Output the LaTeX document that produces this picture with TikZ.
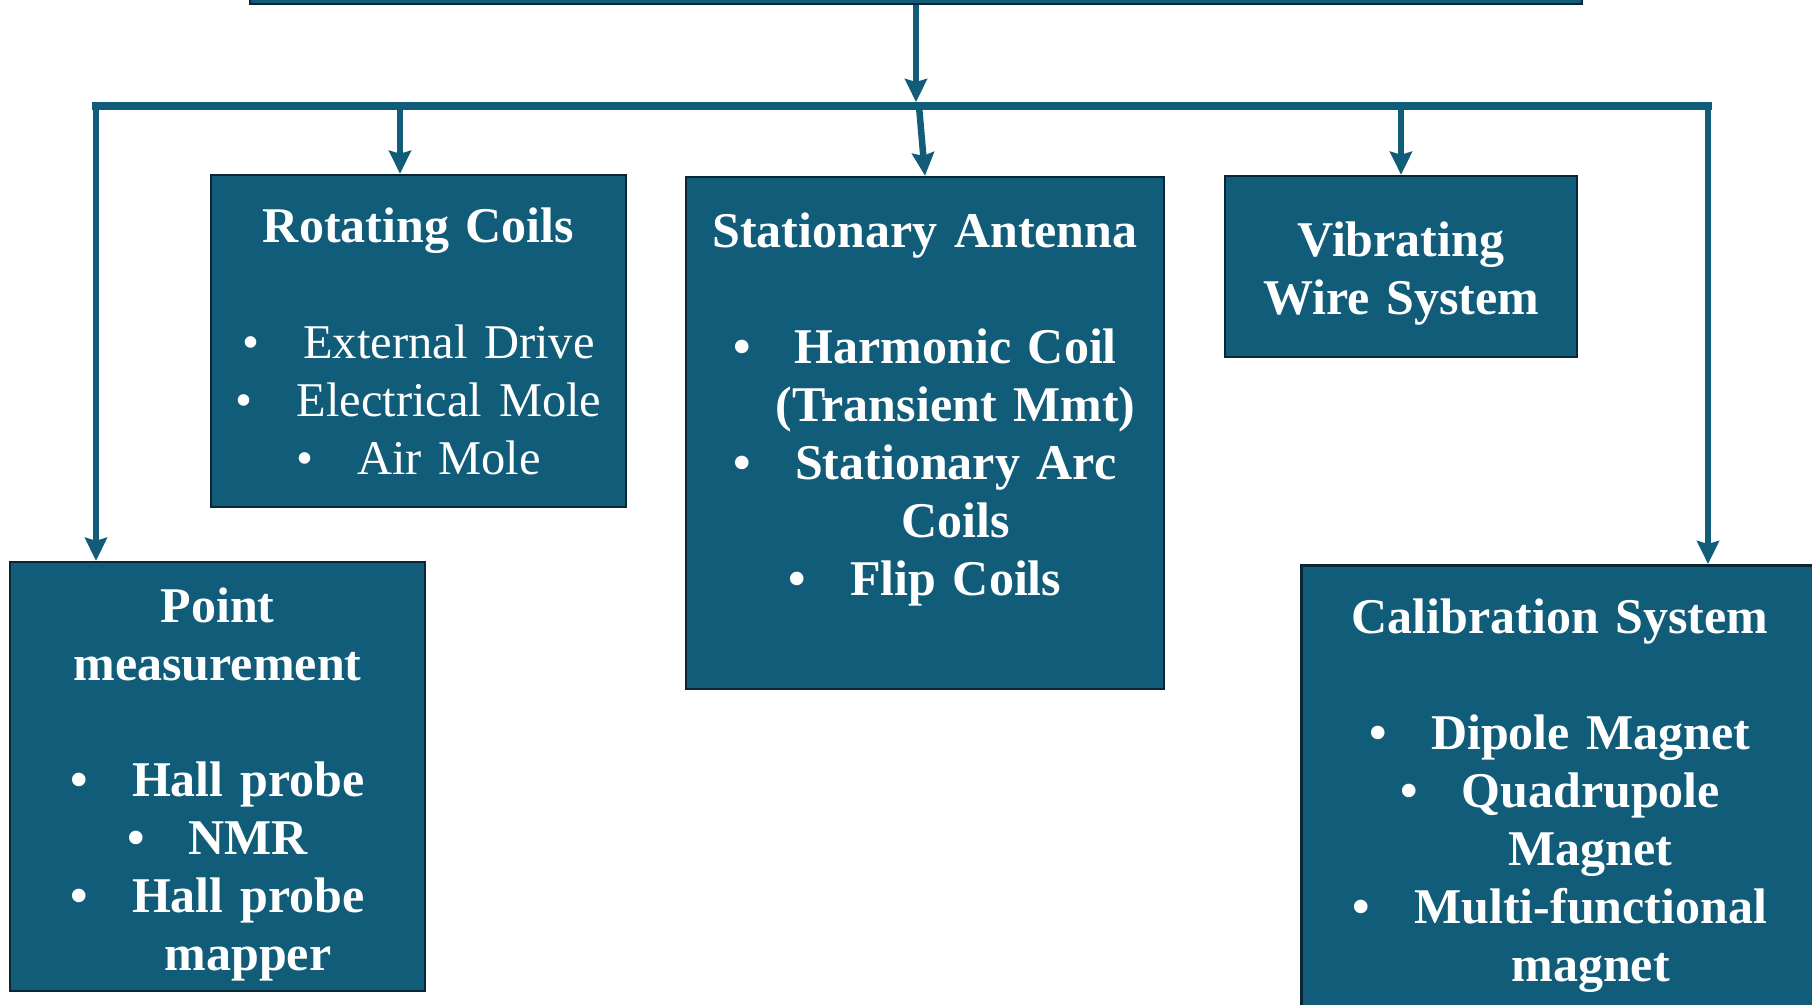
\documentclass[tikz,border=0pt]{standalone}
\usepackage{fontspec}
\setmainfont{Liberation Serif}
\usetikzlibrary{arrows.meta,calc,positioning}
\definecolor{boxteal}{RGB}{17,92,120}
\definecolor{boxedge}{RGB}{9,38,52}
\newcommand{\itm}{\textbullet\hspace{44pt}}
\newcommand{\cont}{\hspace*{61pt}}

\begin{document}
\begin{tikzpicture}[x=1pt,y=-1pt,>={Stealth[length=23pt,width=22pt,inset=3pt]},
  catbox/.style={draw=boxedge,fill=boxteal,line width=2.5pt,inner sep=0pt,text=white,
    align=center,font=\fontsize{50}{58}\selectfont\bfseries},
  feed/.style={->,boxteal,line width=6.5pt},
  busline/.style={boxteal,line width=8pt}]
  \useasboundingbox (0,0) rectangle (1812,1004);
  \node[catbox,minimum width=1332pt,minimum height=100pt] (top) at (916,-46) {};
  \node[catbox,minimum width=415pt,minimum height=332pt,text width=415pt] (rc) at (418.5,341)
    {Rotating Coils\\[58pt]\mdseries\fontsize{48.5}{58}\selectfont\itm External Drive\\ \itm Electrical Mole\\ \itm Air Mole};
  \node[catbox,minimum width=478pt,minimum height=512pt,text width=478pt] (sa) at (925,433)
    {Stationary Antenna\\[58pt]\itm Harmonic Coil\\ \cont(Transient Mmt)\\ \itm Stationary Arc\\ \cont Coils\\ \itm Flip Coils\\ \mbox{}};
  \node[catbox,minimum width=352pt,minimum height=181pt,text width=352pt] (vw) at (1401,266.5)
    {\rule{0pt}{48pt}Vibrating\\Wire System};
  \node[catbox,minimum width=415pt,minimum height=429pt,text width=415pt] (pm) at (217.5,776.5)
    {\rule{0pt}{50pt}Point\\measurement\\[58pt]\itm Hall probe\\ \itm NMR\\ \itm Hall probe\\ \cont mapper};
  \node[catbox,minimum width=540pt,minimum height=466pt,anchor=north west] (csbox) at (1300,564) {};
  \node[catbox,draw=none,fill=none,minimum width=508pt,minimum height=456pt,text width=508pt] (cs) at (1560,795.5)
    {Calibration System\\[58pt]\itm Dipole Magnet\\ \itm Quadrupole\\ \cont Magnet\\ \itm Multi-functional\\ \cont magnet};

  \coordinate (busL) at (96,106);
  \coordinate (busR) at (1708,106);
  \coordinate (rcTap) at (400,106);
  \coordinate (saTap) at (919,106);
  \draw[busline] ($(busL)+(-4,0)$) -- ($(busR)+(4,0)$);
  \draw[feed,shorten >=4pt] (top.south) -- (top.south |- busL);
  \draw[feed] (busL) -- (busL |- pm.north);
  \draw[feed] (rcTap) -- (rcTap |- rc.north);
  \draw[feed] (saTap) -- (sa.north);
  \draw[feed] (vw.north |- busL) -- (vw.north);
  \draw[feed] (busR) -- (busR |- csbox.north);
\end{tikzpicture}
\end{document}
